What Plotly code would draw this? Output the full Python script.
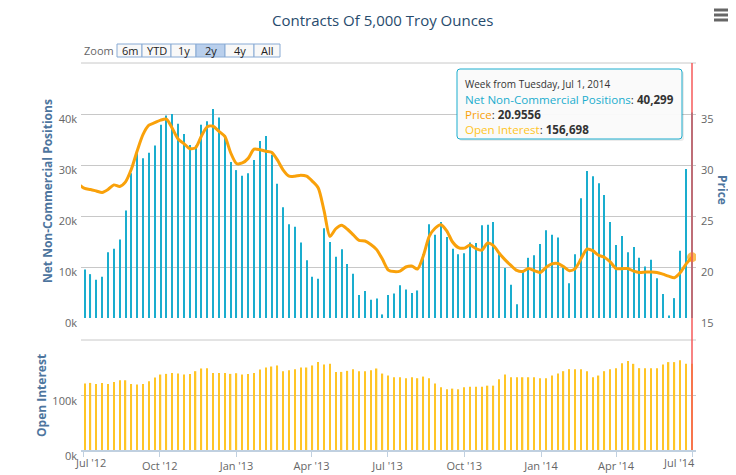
import plotly.graph_objects as go
import pandas as pd

# ---------------- data ----------------
dates = pd.date_range('2012-06-26', '2014-07-01', freq='7D')

net_positions = [9000, 9500, 8600, 7500, 8100, 12900, 13600, 15400, 21100, 28400,
                 32400, 31300, 32400, 33800, 37900, 39700, 40000, 38100, 36100, 33900,
                 33800, 37900, 38600, 41000, 39300, 35800, 30600, 29000, 27900, 28400,
                 31000, 34700, 35700, 32000, 26300, 21700, 18400, 17900, 14800, 11300,
                 8100, 7700, 17600, 14900, 12000, 13500, 10600, 8700, 4500, 5300,
                 3600, 3800, 700, 4500, 4800, 6400, 5600, 4900, 5400, 12500,
                 18400, 16300, 18800, 15900, 13600, 12500, 12700, 14800, 14700, 18200,
                 18300, 18800, 12500, 9800, 6500, 2700, 9400, 11800, 12300, 14500,
                 17200, 16300, 15800, 9900, 6800, 12500, 23500, 28800, 27800, 26400,
                 24100, 18800, 14300, 16100, 12900, 13900, 11800, 10100, 11400, 7800,
                 4700, 500, 3900, 13200, 29200, 40299]

price = [28.1, 27.7, 27.6, 27.45, 27.3, 27.6, 28.05, 27.9, 28.35, 29.6,
         31.4, 33.0, 33.9, 34.15, 34.4, 34.5, 33.6, 32.55, 32.1, 31.6,
         31.7, 32.85, 33.75, 33.8, 33.3, 32.8, 31.2, 30.15, 30.2, 30.65,
         31.55, 31.5, 31.35, 31.25, 30.5, 29.5, 28.9, 28.9, 29.0, 28.9,
         28.4, 27.75, 25.5, 23.0, 23.75, 24.1, 23.7, 23.15, 22.6, 22.55,
         22.2, 21.7, 20.75, 19.7, 19.55, 19.6, 20.0, 20.1, 19.8, 21.1,
         23.0, 23.8, 24.15, 23.55, 22.45, 21.9, 21.85, 22.15, 21.8, 21.65,
         22.35, 22.1, 21.35, 20.7, 20.15, 19.66, 19.56, 19.85, 19.63, 19.47,
         19.95, 20.3, 20.35, 20.05, 19.63, 19.85, 20.8, 21.75, 21.6, 21.15,
         20.95, 20.5, 19.85, 19.83, 19.85, 19.6, 19.47, 19.5, 19.5, 19.47,
         19.3, 19.1, 18.95, 19.45, 20.3, 20.9556]

open_interest = [121000, 120700, 122000, 120000, 122000, 120000, 123800, 126800, 126800, 120000,
                 118900, 120000, 125000, 131700, 137200, 138400, 140200, 139000, 137200, 138400,
                 143300, 148200, 148800, 140200, 140200, 140200, 138400, 139600, 137200, 138400,
                 140200, 146300, 150000, 151800, 153700, 143300, 145100, 147000, 150000, 150000,
                 153700, 159800, 155500, 156700, 142000, 142000, 143900, 147000, 143300, 143300,
                 145100, 148200, 139000, 135400, 132300, 132300, 130500, 132300, 130500, 133500,
                 130500, 120700, 114000, 110400, 111600, 110400, 114000, 115200, 115200, 115200,
                 117000, 117000, 128700, 137200, 132300, 132300, 132300, 132300, 132300, 130500,
                 130500, 135400, 139000, 143300, 147000, 147000, 147000, 143300, 132300, 135400,
                 143300, 147000, 148800, 157900, 161600, 156700, 148800, 148800, 148800, 148800,
                 155500, 159800, 159800, 163400, 156700, 156698]

tick_dates = ['2012-07-01', '2012-10-01', '2013-01-01', '2013-04-01', '2013-07-01',
              '2013-10-01', '2014-01-01', '2014-04-01', '2014-07-01']
tick_labels = ["Jul '12", "Oct '12", "Jan '13", "Apr '13", "Jul '13",
               "Oct '13", "Jan '14", "Apr '14", "Jul '14"]
range_buttons = ['6m', 'YTD', '1y', '2y', '4y', 'All']
selected_button = '2y'

assert len(dates) == len(net_positions) == len(price) == len(open_interest)

# ---------------- styling ----------------
FONT = 'Open Sans, DejaVu Sans, sans-serif'
TEAL = '#1aadce'
ORANGE = '#f9a10a'
GOLD = '#ffc526'
AXIS_TITLE = '#4d759e'
LABEL = '#666666'
GRID = '#C8C8C8'

# page body has an 8px default margin: the figure is drawn from screen (8, 8)
OFF = 8
FIG_W, FIG_H = 736 - OFF, 475 - OFF
# plot area in screen pixels
L, R, T, B = 81, 696, 63, 450
W, H = R - L, B - T


def px(x):
    return (x - L) / W


def py(y):
    return (B - y) / H


DAY = 86400000

fig = go.Figure()
fig.add_trace(go.Bar(x=dates, y=net_positions, xaxis='x', yaxis='y',
                     marker=dict(color=TEAL, line=dict(width=0)),
                     width=1.3 * DAY, name='Net Non-Commercial Positions'))
fig.add_trace(go.Scatter(x=dates, y=price, xaxis='x', yaxis='y2', mode='lines+markers',
                         line=dict(color=ORANGE, width=3, shape='spline', smoothing=0.7),
                         marker=dict(size=[0] * (len(price) - 1) + [10], color=ORANGE,
                                     line=dict(width=0)),
                         name='Price'))
fig.add_trace(go.Bar(x=dates, y=open_interest, xaxis='x', yaxis='y3',
                     marker=dict(color=GOLD, line=dict(width=0)),
                     width=1.6 * DAY, name='Open Interest'))

top_dom = [py(318), 1.0]
bot_dom = [0.0, py(340)]

tickfont = dict(family=FONT, size=11, color=LABEL)

fig.update_layout(
    template='none',
    width=FIG_W, height=FIG_H,
    margin=dict(l=L - OFF, r=FIG_W - (R - OFF), t=T - OFF, b=FIG_H - (B - OFF), pad=0,
                autoexpand=False),
    paper_bgcolor='white', plot_bgcolor='white',
    showlegend=False, barmode='overlay', hovermode=False,
    font=dict(family=FONT),
    xaxis=dict(type='date', domain=[0, 1], anchor='y3', automargin=False,
               range=['2012-06-28 14:24', '2014-07-05 19:12'],
               tickvals=tick_dates,
               ticktext=[''] + tick_labels[1:-1] + [''],
               ticks='outside', ticklen=5, tickwidth=1, tickcolor='#C0D0E0',
               showline=True, linecolor='#C0D0E0', linewidth=2,
               showgrid=False, zeroline=False, tickfont=tickfont),
    yaxis=dict(domain=top_dom, anchor='x', range=[0, 50000], automargin=False,
               tickvals=[0, 10000, 20000, 30000, 40000, 50000],
               ticktext=['0k', '10k', '20k', '30k', '40k', ''],
               gridcolor=GRID, gridwidth=1, zeroline=False, showline=False,
               ticks='', ticklabelstandoff=3, ticklabelshift=5, tickfont=tickfont),
    yaxis2=dict(overlaying='y', side='right', anchor='x', range=[15, 40], automargin=False,
                tickvals=[15, 20, 25, 30, 35],
                ticktext=['15', '20', '25', '30', '35'],
                showgrid=False, zeroline=False, showline=False,
                ticks='', ticklabelstandoff=4, ticklabelshift=5, tickfont=tickfont),
    yaxis3=dict(domain=bot_dom, anchor='x', range=[0, 200000], automargin=False,
                tickvals=[0, 100000, 200000],
                ticktext=['0k', '100k', ''],
                gridcolor=GRID, gridwidth=1, zeroline=False, showline=False,
                ticks='', ticklabelstandoff=3, ticklabelshift=6, tickfont=tickfont),
)

shapes = []
annotations = []


def ann(x, y, text, size=11, color=LABEL, xanchor='center', yanchor='middle', angle=0, **kw):
    annotations.append(dict(x=px(x), y=py(y), xref='paper', yref='paper', text=text,
                            showarrow=False, xanchor=xanchor, yanchor=yanchor,
                            textangle=angle,
                            font=dict(family=FONT, size=size, color=color), **kw))


# edge gridlines (top of each panel)
for yy in (top_dom[1], bot_dom[1]):
    shapes.append(dict(type='line', xref='paper', yref='paper', x0=0, x1=1, y0=yy, y1=yy,
                       line=dict(color=GRID, width=1), layer='below'))

# title
ann(382, 8.5, 'Contracts Of 5,000 Troy Ounces', size=15, color='#274b6d',
    yanchor='top', borderpad=0)

# axis titles
ann(47, 191, '<b>Net Non-Commercial Positions</b>', size=12, color=AXIS_TITLE, angle=-90)
ann(723, 190, '<b>Price</b>', size=12, color=AXIS_TITLE, angle=90)
ann(41, 395, '<b>Open Interest</b>', size=12, color=AXIS_TITLE, angle=-90)

# justified edge x labels
ann(90, 462, tick_labels[0], size=11)
ann(679, 462, tick_labels[-1], size=11)

# hamburger menu
for yy in (10, 15, 20):
    shapes.append(dict(type='rect', xref='paper', yref='paper',
                       x0=px(714), x1=px(731), y0=py(yy - 1.5), y1=py(yy + 1.5),
                       fillcolor='#666666', line=dict(width=0)))

# range selector
ann(82, 51, 'Zoom', size=11, color=LABEL, xanchor='left')
edges = [117, 142, 171, 196, 225, 254, 280]
for i, lab in enumerate(range_buttons):
    x0, x1 = edges[i], edges[i + 1]
    sel = lab == selected_button
    shapes.append(dict(type='rect', xref='paper', yref='paper',
                       x0=px(x0), x1=px(x1), y0=py(57), y1=py(44),
                       fillcolor='#b9cfec' if sel else '#f8f8f8',
                       line=dict(color='#88aad4', width=1)))
    ann((x0 + x1) / 2, 50.5, lab, size=11, color='#222222')

# crosshair
shapes.append(dict(type='line', xref='x', yref='paper', x0=dates[-1], x1=dates[-1],
                   y0=0, y1=1, line=dict(color='rgba(245,90,90,0.75)', width=2),
                   layer='above'))

# tooltip
bx0, bx1, by0, by1 = 457, 682, 69, 139
rx, ry = 3 / W, 3 / H


def rounded(x0, x1, y0, y1):
    X0, X1, Y0, Y1 = px(x0), px(x1), py(y1), py(y0)
    return (f'M {X0 + rx},{Y0} L {X1 - rx},{Y0} Q {X1},{Y0} {X1},{Y0 + ry} '
            f'L {X1},{Y1 - ry} Q {X1},{Y1} {X1 - rx},{Y1} L {X0 + rx},{Y1} '
            f'Q {X0},{Y1} {X0},{Y1 - ry} L {X0},{Y0 + ry} Q {X0},{Y0} {X0 + rx},{Y0} Z')


shapes.append(dict(type='path', xref='paper', yref='paper', path=rounded(bx0 + 2, bx1 + 2, by0 + 2, by1 + 2),
                   fillcolor='rgba(0,0,0,0.08)', line=dict(width=0), layer='above'))
shapes.append(dict(type='path', xref='paper', yref='paper', path=rounded(bx0, bx1, by0, by1),
                   fillcolor='rgba(250,250,250,0.97)', line=dict(color=TEAL, width=1), layer='above'))

last = dates[-1]
ann(463, 84, f'Week from Tuesday, {last.strftime("%b")} {last.day}, {last.year}', size=10,
    color='#333333', xanchor='left')
tooltip_rows = '<br>'.join([
    f'<span style="color:{TEAL}">Net Non-Commercial Positions</span>: <b>{net_positions[-1]:,}</b>',
    f'<span style="color:{ORANGE}">Price</span>: <b>{price[-1]:.4f}</b>',
    f'<span style="color:{GOLD}">Open Interest</span>: <b>{open_interest[-1]:,}</b>',
])
ann(463, 114, tooltip_rows, size=11.6, color='#333333', xanchor='left', align='left')

fig.update_layout(shapes=shapes, annotations=annotations)
fig.write_html('out.html')
